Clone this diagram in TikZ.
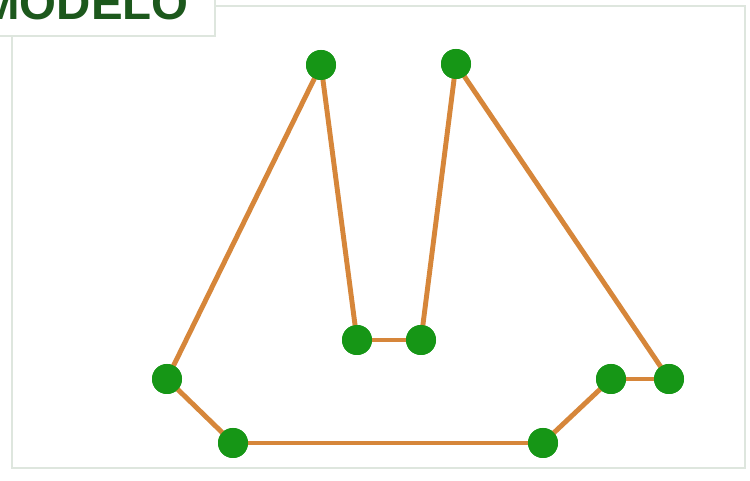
\documentclass[tikz,border=0pt]{standalone}
\usepackage{fontspec}
\setmainfont{Liberation Sans}
\usetikzlibrary{positioning}
\definecolor{dot_green}{RGB}{22,150,22}
\definecolor{line_orange}{RGB}{214,134,58}
\definecolor{frame_gray}{RGB}{222,230,222}
\definecolor{title_green}{RGB}{28,88,28}

\begin{document}
\begin{tikzpicture}[
                every node/.style={inner sep=0pt},
                dot/.style={circle, fill=dot_green, minimum size=0.6cm},
                seg/.style={line_orange, line width=2.8pt}
            ]
                % Canvas (750x481 px, 50 px = 1 cm)
                \useasboundingbox (0,0) rectangle (15,9.62);
                \clip (0,0) rectangle (15,9.62);
                \fill[white] (0,0) rectangle (15,9.62);

                % Outer frame
                \draw[frame_gray, thick] (4.3,9.5) -- (14.9,9.5) -- (14.9,0.26) -- (0.24,0.26) -- (0.24,8.9);
                % Title box
                \draw[frame_gray, thick] (0,8.9) -- (4.3,8.9) -- (4.3,9.62);
                \node[anchor=base east, text=title_green, font=\fontsize{27}{28}\selectfont\bfseries] (title) at (3.78,9.22) {MODELO};

                % Points of the figure
                \node[dot] (a) at (6.42,8.32) {};
                \node[dot] (b) at (9.12,8.34) {};
                \node[dot] (c) at (7.14,2.82) {};
                \node[dot] (d) at (8.42,2.82) {};
                \node[dot] (e) at (3.34,2.04) {};
                \node[dot] (f) at (4.66,0.76) {};
                \node[dot] (g) at (10.86,0.76) {};
                \node[dot] (h) at (12.22,2.04) {};
                \node[dot] (i) at (13.38,2.04) {};

                % Joining segments
                \foreach \p/\q in {e/a, a/c, c/d, d/b, b/i, i/h, h/g, g/f, f/e}
                    \draw[seg] (\p.center) -- (\q.center);

                % Redraw dots over the segments
                \foreach \n in {a,b,c,d,e,f,g,h,i}
                    \fill[dot_green] (\n) circle (0.3cm);
            \end{tikzpicture}
\end{document}
